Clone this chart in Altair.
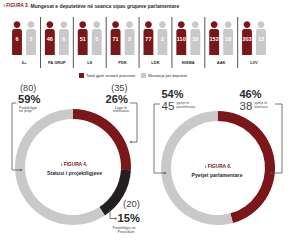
import altair as alt
import pandas as pd

# ---------------- data ----------------
groups = ["6+", "PA GRUP", "LS", "PDK", "LDK", "NISMA", "AAK", "LVV"]
totals = [6, 46, 51, 71, 77, 110, 152, 203]
averages = [2, 6, 5, 2, 2, 10, 18, 13]
series = ["Totali gjatë sesionit pranveror", "Mesatarja për deputetë"]

status_cats = ["Ligje të miratuara", "Projektligje në Procedurë", "Projektligje në pritje"]
status_vals = [35, 20, 80]

quest_cats = ["pyetje të mohuara", "pyetje të parashtruara"]
quest_vals = [38, 45]

# ---------------- style ----------------
RED = "#7b1619"
GRAY = "#c9c9c9"
BLACK = "#231f20"
DARK = "#2b2b2b"
MID = "#444444"
LINE = "#555555"
FONT = "Liberation Sans, Arial, sans-serif"

PERSON = ("M 0 -0.99 A 0.2 0.2 0 1 1 0 -0.59 A 0.2 0.2 0 1 1 0 -0.99 Z "
          "M -0.29 -0.38 Q -0.29 -0.53 -0.15 -0.53 L 0.15 -0.53 Q 0.29 -0.53 0.29 -0.38 "
          "L 0.29 1 L -0.29 1 Z")

rows = []
for g, t, a in zip(groups, totals, averages):
    rows.append({"group": g, "series": series[0], "value": t})
    rows.append({"group": g, "series": series[1], "value": a})
df_people = pd.DataFrame(rows)
df_groups = pd.DataFrame({"group": groups})

xscale = alt.Scale(type="point", domain=groups, range=[24, 254], padding=0)
xoff = alt.XOffset("series:N", scale=alt.Scale(type="point", domain=series, range=[-7, 7], padding=0))

icons = alt.Chart(df_people).mark_point(
    shape=PERSON, filled=True, size=1156, opacity=1, strokeWidth=0
).encode(
    x=alt.X("group:N", scale=xscale, axis=None),
    xOffset=xoff,
    y=alt.value(38),
    color=alt.Color(
        "series:N",
        scale=alt.Scale(domain=series, range=[RED, GRAY]),
        legend=alt.Legend(
            orient="none", legendX=79, legendY=73, direction="horizontal",
            title=None, symbolType="square", symbolSize=25, symbolStrokeWidth=0,
            symbolOpacity=1, labelFontSize=3.8, labelFont=FONT, labelColor=DARK,
            columnPadding=5, labelOffset=2, padding=0,
        ),
    ),
)

numbers = alt.Chart(df_people).mark_text(
    color="white", fontWeight="bold", fontSize=5.5, font=FONT, baseline="middle"
).encode(
    x=alt.X("group:N", scale=xscale, axis=None),
    xOffset=xoff,
    y=alt.value(39),
    text="value:Q",
)

glabels = alt.Chart(df_groups).mark_text(
    color=DARK, fontWeight="bold", fontSize=4, font=FONT, baseline="middle"
).encode(
    x=alt.X("group:N", scale=xscale, axis=None),
    y=alt.value(63),
    text="group:N",
)

seps = alt.Chart(df_groups.iloc[:-1]).mark_rule(
    color=LINE, strokeWidth=1, xOffset=16.5
).encode(
    x=alt.X("group:N", scale=xscale, axis=None),
    y=alt.value(17),
    y2=alt.value(68),
)

# ---------------- donuts ----------------
df_status = pd.DataFrame({"cat": status_cats, "value": status_vals, "idx": range(len(status_cats))})
df_quest = pd.DataFrame({"cat": quest_cats, "value": quest_vals, "idx": range(len(quest_cats))})

donut1 = alt.Chart(df_status).mark_arc(radius=58, radius2=48, x=73, y=167).encode(
    theta=alt.Theta("value:Q", stack=True),
    order=alt.Order("idx:Q"),
    color=alt.Color("cat:N", scale=alt.Scale(domain=status_cats, range=[RED, BLACK, GRAY]), legend=None),
)
donut2 = alt.Chart(df_quest).mark_arc(radius=57, radius2=47, x=218, y=168).encode(
    theta=alt.Theta("value:Q", stack=True),
    order=alt.Order("idx:Q"),
    color=alt.Color("cat:N", scale=alt.Scale(domain=quest_cats, range=[RED, GRAY]), legend=None),
)


def txt(s, x, y, size, color=DARK, weight="normal", align="left", font=FONT):
    return alt.Chart(pd.DataFrame({"t": [s]})).mark_text(
        x=x, y=y, fontSize=size, color=color, fontWeight=weight, align=align,
        baseline="middle", font=font,
    ).encode(text="t:N")


def seg(x1, y1, x2, y2):
    return alt.Chart(pd.DataFrame({"a": [0]})).mark_rule(color=LINE, strokeWidth=0.8).encode(
        x=alt.value(x1), x2=alt.value(x2), y=alt.value(y1), y2=alt.value(y2)
    )


def arrow(x, y, shape):
    return alt.Chart(pd.DataFrame({"a": [0]})).mark_point(
        shape=shape, size=7, filled=True, color=LINE, opacity=1
    ).encode(x=alt.value(x), y=alt.value(y))


s_tot = sum(status_vals)
q_tot = sum(quest_vals)
pct = lambda v, t: f"{round(100 * v / t)}%"

annot = [
    # title
    txt("› FIGURA 3.", 3.5, 5.5, 4.6, color=RED, weight="bold"),
    txt("Mungesat e deputetëve në seanca sipas grupeve parlamentare", 30.5, 5.5, 5, weight="bold"),
    # figure 4 centre
    txt("› FIGURA 4.", 74, 165, 4.8, color=RED, weight="bold", align="center"),
    txt("Statusi i projektligjeve", 74.5, 172.5, 5.2, weight="bold", align="center"),
    # figure 6 centre
    txt("› FIGURA 6.", 218, 166.5, 4.8, color=RED, weight="bold", align="center"),
    txt("Pyetjet parlamentare", 217, 174.5, 5.2, weight="bold", align="center"),
    # pending
    txt(f"({status_vals[2]})", 20, 87.5, 9.2, color=MID),
    txt(pct(status_vals[2], s_tot), 18, 99.5, 11.2, weight="bold"),
    txt("Projektligje", 19, 107.5, 3.7, color=MID),
    txt("në pritje", 19, 111.3, 3.7, color=MID),
    # approved
    txt(f"({status_vals[0]})", 127.5, 87.5, 9.2, color=MID, align="right"),
    txt(pct(status_vals[0], s_tot), 128, 99.5, 11.2, weight="bold", align="right"),
    txt("Ligje të", 121, 107.5, 3.7, color=MID, align="center"),
    txt("miratuara", 121, 111.3, 3.7, color=MID, align="center"),
    # procedure
    txt(f"({status_vals[1]})", 140, 204, 9.5, color=MID, align="right"),
    txt(pct(status_vals[1], s_tot), 140, 219, 11.2, weight="bold", align="right"),
    txt("Projektligje në", 124, 228, 3.7, color=MID, align="center"),
    txt("Procedurë", 126, 231.8, 3.7, color=MID, align="center"),
    # questions submitted
    txt(pct(quest_vals[1], q_tot), 161.5, 94.5, 11, weight="bold"),
    txt(f"{quest_vals[1]}", 161.5, 106.5, 11.5, color=MID),
    txt("pyetje të", 176.5, 102.8, 3.3, color=MID),
    txt("parashtruara", 176.5, 106.6, 3.3, color=MID),
    # questions answered
    txt(pct(quest_vals[0], q_tot), 239.5, 94.5, 11, weight="bold"),
    txt(f"{quest_vals[0]}", 239.5, 106.5, 11.5, color=MID),
    txt("pyetje të", 254.5, 102.8, 3.3, color=MID),
    txt("mohuara", 254.5, 106.6, 3.3, color=MID),
]

brackets = [
    seg(12, 103, 16.5, 103), seg(12, 103, 12, 170), seg(12, 170, 21, 170), arrow(21.5, 170, "triangle-right"),
    seg(130, 103, 137, 103), seg(137, 103, 137, 142), seg(131, 142, 137, 142), arrow(130.5, 142, "triangle-left"),
    seg(110, 209, 110, 218.5), seg(110, 218.5, 115.5, 218.5), arrow(116, 218.5, "triangle-right"),
    seg(154, 104, 160, 104), seg(154, 104, 154, 173), seg(154, 173, 165, 173), arrow(165.5, 173, "triangle-right"),
    seg(275, 104, 282, 104), seg(282, 104, 282, 173), seg(271, 173, 282, 173), arrow(270.5, 173, "triangle-left"),
]

chart = alt.layer(
    seps, icons, numbers, glabels, donut1, donut2, *brackets, *annot
).resolve_scale(
    color="independent", theta="independent"
).properties(
    width=300, height=241, padding=0, autosize=alt.AutoSizeParams(type="none"),
    background="white",
).configure_view(stroke=None)

chart.save("out.html", embed_options={"renderer": "svg", "actions": False})
